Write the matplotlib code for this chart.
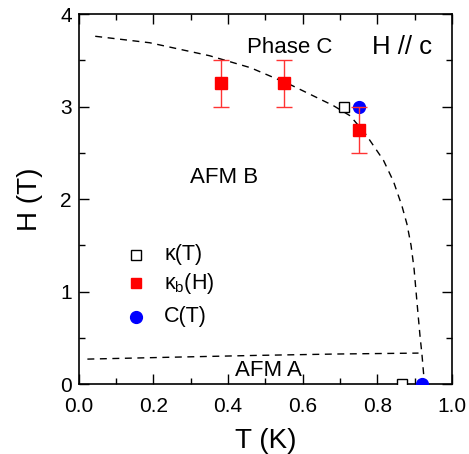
import matplotlib.pyplot as plt
from matplotlib.ticker import MultipleLocator

plt.rcParams['font.family'] = ['Liberation Sans', 'DejaVu Sans']
plt.rcParams['mathtext.fontset'] = 'custom'
plt.rcParams['mathtext.rm'] = 'Liberation Sans'

# kappa(T) open squares
kT_T = [0.71, 0.865]
kT_H = [3.0, 0.0]

# kappa_b(H) red squares with error bars
kbH_T = [0.38, 0.55, 0.75]
kbH_H = [3.25, 3.25, 2.75]
kbH_err = [0.25, 0.25, 0.25]

# C(T) blue circles
CT_T = [0.75, 0.92]
CT_H = [3.0, 0.0]

# upper phase boundary (dashed)
up_T = [0.044, 0.19, 0.35, 0.46, 0.565, 0.682, 0.727, 0.767, 0.816, 0.843, 0.866,
        0.879, 0.890, 0.898, 0.906, 0.914, 0.919, 0.926]
up_H = [3.76, 3.69, 3.55, 3.42, 3.24, 3.01, 2.90, 2.71, 2.42, 2.19, 1.92,
        1.73, 1.50, 1.25, 0.88, 0.52, 0.33, 0.0]

# lower phase boundary (dashed)
low_T = [0.023, 0.243, 0.476, 0.69, 0.91]
low_H = [0.27, 0.29, 0.31, 0.325, 0.335]

fig = plt.figure(figsize=(4.69, 4.54), dpi=100)
ax = fig.add_axes([0.168, 0.154, 0.796, 0.815])

ax.plot(up_T, up_H, 'k--', lw=1.0, dashes=(5, 4))
ax.plot(low_T, low_H, 'k--', lw=1.0, dashes=(5, 4))

ax.plot(CT_T, CT_H, 'o', color='blue', ms=8.5, zorder=3)
ax.plot(kT_T, kT_H, 's', mfc='white', mec='black', mew=1.0, ms=7, zorder=3)
ax.errorbar(kbH_T, kbH_H, yerr=kbH_err, fmt='s', color='red', ms=8.5, ecolor='#ff3333',
            elinewidth=1.0, capsize=6, capthick=1.0, zorder=4)

ax.text(0.566, 3.64, 'Phase C', fontsize=16, ha='center', va='center')
ax.text(0.866, 3.64, 'H // c', fontsize=18.5, ha='center', va='center')
ax.text(0.39, 2.23, 'AFM B', fontsize=16, ha='center', va='center')
ax.text(0.507, 0.15, 'AFM A', fontsize=16, ha='center', va='center')

# legend drawn by hand (no frame)
leg_y = [0.349, 0.273, 0.182]
ax.plot(0.152, leg_y[0], 's', mfc='white', mec='black', mew=1.0, ms=7,
        transform=ax.transAxes, clip_on=False)
ax.plot(0.152, leg_y[1], 's', color='red', ms=7, transform=ax.transAxes, clip_on=False)
ax.plot(0.152, leg_y[2], 'o', color='blue', ms=8.5, transform=ax.transAxes, clip_on=False)
ax.text(0.229, leg_y[0], 'κ(T)', fontsize=15.5, va='center', transform=ax.transAxes)
ax.text(0.229, leg_y[1], 'κ$_{\\mathrm{b}}$(H)', fontsize=15.5, va='center', transform=ax.transAxes)
ax.text(0.229, leg_y[2], 'C(T)', fontsize=15.5, va='center', transform=ax.transAxes)

ax.set_xlim(0, 1.0)
ax.set_ylim(0, 4)
ax.xaxis.set_major_locator(MultipleLocator(0.2))
ax.xaxis.set_minor_locator(MultipleLocator(0.1))
ax.yaxis.set_major_locator(MultipleLocator(1))
ax.yaxis.set_minor_locator(MultipleLocator(0.5))
ax.xaxis.set_major_formatter(plt.FuncFormatter(lambda v, p: f'{v:.1f}'))
ax.tick_params(which='both', direction='in', top=True, right=True, labelsize=15)
ax.tick_params(which='major', length=7, width=1.0)
ax.tick_params(which='minor', length=4, width=1.0)
ax.tick_params(axis='x', pad=9)
ax.tick_params(axis='y', pad=5)
for s in ax.spines.values():
    s.set_linewidth(1.2)

ax.set_xlabel('T (K)', fontsize=20, labelpad=9)
ax.set_ylabel('H (T)', fontsize=20, labelpad=12)

fig.savefig('out.png', dpi=100)
